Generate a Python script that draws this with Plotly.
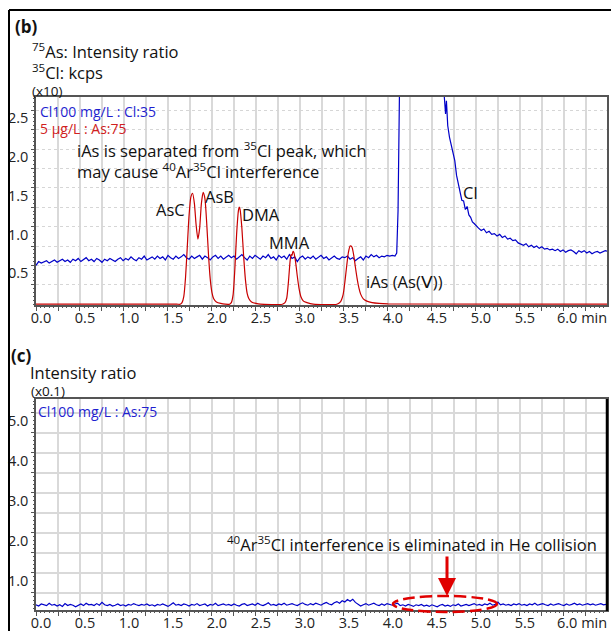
import numpy as np
import plotly.graph_objects as go

W, H = 611, 631

# ---------------- data ----------------
x_tick_labels = ["0.0", "0.5", "1.0", "1.5", "2.0", "2.5", "3.0",
                 "3.5", "4.0", "4.5", "5.0", "5.5", "6.0"]
x_unit = "min"
top_y_tick_labels = ["0.5", "1.0", "1.5", "2.0", "2.5"]
bottom_y_tick_labels = ["1.0", "2.0", "3.0", "4.0", "5.0"]

# As:75 (red) chromatogram, top panel
as_time = [0.00, 1.60, 1.64, 1.66, 1.68, 1.70, 1.72, 1.74, 1.76, 1.78, 1.80, 1.82,
           1.84, 1.86, 1.88, 1.90, 1.92, 1.94, 1.96, 1.98, 2.00, 2.02, 2.05, 2.10,
           2.15, 2.20, 2.22, 2.24, 2.26, 2.28, 2.30, 2.31, 2.32, 2.34, 2.36, 2.38,
           2.40, 2.42, 2.45, 2.50, 2.55, 2.80, 2.83, 2.85, 2.87, 2.89, 2.90, 2.91,
           2.92, 2.93, 2.95, 2.97, 2.99, 3.01, 3.04, 3.08, 3.15, 3.42, 3.46, 3.49,
           3.51, 3.53, 3.55, 3.57, 3.59, 3.61, 3.63, 3.65, 3.67, 3.69, 3.72, 3.76,
           3.82, 3.90, 4.00, 6.49]
as_value = [0.0, 0.0, 0.0, 0.02, 0.10, 0.35, 0.75, 1.15, 1.38, 1.43, 1.30, 1.02,
            0.84, 0.98, 1.30, 1.44, 1.36, 1.05, 0.65, 0.33, 0.15, 0.07, 0.03, 0.01,
            0.0, 0.0, 0.02, 0.12, 0.45, 0.90, 1.20, 1.25, 1.22, 0.98, 0.62, 0.32,
            0.14, 0.07, 0.03, 0.01, 0.0, 0.0, 0.02, 0.08, 0.30, 0.58, 0.64, 0.63,
            0.68, 0.67, 0.55, 0.36, 0.20, 0.10, 0.04, 0.02, 0.0, 0.0, 0.03, 0.12,
            0.28, 0.48, 0.66, 0.75, 0.74, 0.64, 0.48, 0.33, 0.21, 0.13, 0.07, 0.04,
            0.02, 0.01, 0.005, 0.0]

# Cl:35 (blue) chromatogram, top panel: baseline sampled every 0.03 min from 0.00
cl_base_start, cl_step = 0.0, 0.03
cl_base_values = [
    0.50, 0.55, 0.53, 0.54, 0.56, 0.53, 0.55, 0.57, 0.54, 0.56, 0.58, 0.55, 0.57, 0.54, 0.58,
    0.56, 0.59, 0.55, 0.57, 0.60, 0.56, 0.58, 0.55, 0.59, 0.57, 0.54, 0.58, 0.56, 0.59, 0.57,
    0.55, 0.58, 0.60, 0.56, 0.59, 0.57, 0.61, 0.58, 0.56, 0.60, 0.58, 0.62, 0.57, 0.59, 0.61,
    0.58, 0.62, 0.59, 0.61, 0.57, 0.63, 0.60, 0.58, 0.62, 0.59, 0.61, 0.64, 0.60, 0.58, 0.62,
    0.59, 0.61, 0.63, 0.58, 0.62, 0.60, 0.57, 0.61, 0.63, 0.59, 0.62, 0.58, 0.60, 0.63, 0.60,
    0.62, 0.58, 0.61, 0.64, 0.60, 0.57, 0.62, 0.59, 0.63, 0.61, 0.58, 0.62, 0.60, 0.64, 0.59,
    0.61, 0.57, 0.63, 0.60, 0.62, 0.58, 0.64, 0.59, 0.61, 0.55, 0.60, 0.62, 0.58, 0.61, 0.59,
    0.62, 0.58, 0.60, 0.63, 0.59, 0.61, 0.57, 0.60, 0.62, 0.59, 0.58, 0.61, 0.60, 0.62, 0.58,
    0.60, 0.56, 0.59, 0.61, 0.57, 0.62, 0.60, 0.64, 0.61, 0.63, 0.60, 0.62, 0.61, 0.63, 0.62,
    0.63, 0.62]
cl_peak_time = [4.10, 4.115, 4.13, 4.15, 4.20, 4.30, 4.40, 4.50, 4.58, 4.62, 4.645,
                4.655, 4.665, 4.68, 4.70, 4.72, 4.74, 4.76, 4.78, 4.80, 4.82, 4.84,
                4.86, 4.88, 4.90, 4.92, 4.94, 4.96, 4.98, 5.00]
cl_peak_value = [0.66, 1.2, 2.6, 4.5, 8.0, 9.5, 8.0, 5.5, 3.6, 3.0, 2.58,
                 2.45, 2.62, 2.30, 2.15, 2.05, 1.92, 1.85, 1.66, 1.55, 1.42, 1.34,
                 1.33, 1.22, 1.26, 1.15, 1.12, 1.06, 1.04, 1.01]
cl_tail_start = 5.03
cl_tail_values = [
    0.98, 0.95, 0.97, 0.92, 0.94, 0.90, 0.91, 0.88, 0.90, 0.86, 0.88, 0.84, 0.85, 0.82, 0.83,
    0.79, 0.78, 0.76, 0.78, 0.74, 0.76, 0.73, 0.75, 0.72, 0.74, 0.71, 0.72, 0.70, 0.71, 0.69,
    0.71, 0.68, 0.70, 0.67, 0.69, 0.70, 0.68, 0.65, 0.69, 0.67, 0.69, 0.66, 0.68, 0.65, 0.67,
    0.68, 0.66, 0.67, 0.69, 0.68]

# As:75 in He mode (blue) chromatogram, bottom panel, every 0.03 min from 0.00
he_start = 0.0
he_values = [
    0.20, 0.17, 0.22, 0.19, 0.18, 0.24, 0.19, 0.21, 0.17, 0.20, 0.16, 0.23, 0.18, 0.21, 0.19,
    0.15, 0.19, 0.22, 0.18, 0.24, 0.20, 0.21, 0.18, 0.23, 0.19, 0.26, 0.20, 0.18, 0.21, 0.17,
    0.19, 0.22, 0.18, 0.20, 0.17, 0.21, 0.19, 0.23, 0.20, 0.18, 0.21, 0.19, 0.22, 0.18, 0.20,
    0.17, 0.21, 0.19, 0.22, 0.18, 0.16, 0.20, 0.25, 0.19, 0.21, 0.18, 0.22, 0.20, 0.17, 0.21,
    0.19, 0.23, 0.18, 0.20, 0.22, 0.17, 0.21, 0.19, 0.24, 0.18, 0.20, 0.22, 0.19, 0.21, 0.18,
    0.22, 0.19, 0.17, 0.21, 0.23, 0.18, 0.20, 0.22, 0.19, 0.24, 0.20, 0.18, 0.21, 0.25, 0.19,
    0.21, 0.18, 0.22, 0.20, 0.24, 0.19, 0.21, 0.23, 0.20, 0.18, 0.22, 0.25, 0.21, 0.19, 0.23,
    0.20, 0.24, 0.21, 0.19, 0.23, 0.26, 0.22, 0.20, 0.25, 0.28, 0.24, 0.30, 0.27, 0.33, 0.29,
    0.34, 0.26, 0.22, 0.17, 0.20, 0.23, 0.19, 0.21, 0.24, 0.20, 0.18, 0.22, 0.19, 0.23, 0.21,
    0.19, 0.22, 0.24, 0.18, 0.20, 0.17, 0.21, 0.19, 0.16, 0.20, 0.18, 0.21, 0.17, 0.19, 0.16,
    0.20, 0.18, 0.15, 0.19, 0.21, 0.17, 0.19, 0.16, 0.20, 0.18, 0.22, 0.17, 0.19, 0.21, 0.18,
    0.20, 0.23, 0.19, 0.21, 0.18, 0.22, 0.20, 0.24, 0.19, 0.21, 0.27, 0.20, 0.22, 0.19, 0.21,
    0.18, 0.22, 0.20, 0.23, 0.19, 0.21, 0.18, 0.22, 0.20, 0.24, 0.19, 0.21, 0.23, 0.20, 0.18,
    0.22, 0.19, 0.21, 0.23, 0.20, 0.18, 0.22, 0.19, 0.21, 0.24, 0.20, 0.22, 0.19, 0.21, 0.23,
    0.20, 0.22, 0.19, 0.21, 0.23, 0.20, 0.21]

# ---------------- assemble series ----------------
cl_base_time = np.round(cl_base_start + cl_step * np.arange(len(cl_base_values)), 3)
cl_tail_time = np.round(cl_tail_start + cl_step * np.arange(len(cl_tail_values)), 3)
cl_time = list(cl_base_time) + cl_peak_time + list(cl_tail_time)
cl_value = cl_base_values + cl_peak_value + cl_tail_values
he_time = np.round(he_start + cl_step * np.arange(len(he_values)), 3)

x_tick_vals = [float(s) for s in x_tick_labels]
# last label carries the unit; leading no-break spaces keep "6.0" over its tick
x_tick_text = x_tick_labels[:-1] + ["\u00a0" * 7 + x_tick_labels[-1] + " " + x_unit]
top_y_tick_vals = [float(s) for s in top_y_tick_labels]
bottom_y_tick_vals = [float(s) for s in bottom_y_tick_labels]

BLUE = "#0000c8"
RED = "#c80000"
FONT = "Open Sans"
AX = "#555"

def px(x):
    return x / W

def py(y):
    return 1 - y / H

fig = go.Figure()
fig.add_trace(go.Scatter(x=cl_time, y=cl_value, mode="lines",
                         line=dict(color=BLUE, width=1.2), xaxis="x", yaxis="y"))
fig.add_trace(go.Scatter(x=as_time, y=as_value, mode="lines",
                         line=dict(color=RED, width=1.2, shape="spline", smoothing=0.6),
                         xaxis="x", yaxis="y"))
fig.add_trace(go.Scatter(x=he_time, y=he_values, mode="lines",
                         line=dict(color=BLUE, width=1.2), xaxis="x2", yaxis="y2"))
# empty traces that carry the fine tick-mark overlay axes
fig.add_trace(go.Scatter(x=[], y=[], xaxis="x3", yaxis="y3", hoverinfo="skip"))
fig.add_trace(go.Scatter(x=[], y=[], xaxis="x4", yaxis="y4", hoverinfo="skip"))

XRANGE = [0, 6.49]
TY_RANGE = [-0.01, 2.67]
BY_RANGE = [0.07, 5.35]
xdom = [px(36), px(607)]
tick_font = dict(family=FONT, size=14.5, color="#222")

def main_x(anchor):
    return dict(domain=xdom, anchor=anchor, range=XRANGE, automargin=False,
                tickmode="array", tickvals=x_tick_vals, ticktext=x_tick_text,
                tickangle=0,
                ticks="outside", ticklen=4, tickcolor=AX, tickwidth=1,
                showgrid=True, gridcolor="#d9d9d9", gridwidth=1.5,
                showline=True, linecolor=AX, linewidth=1.5, mirror=True,
                zeroline=False, tickfont=tick_font, ticklabelshift=5,
                ticklabelstandoff=-5,
                minor=dict(tickmode="linear", tick0=0.25, dtick=0.5, ticks="outside",
                           ticklen=4, tickcolor=AX, showgrid=True,
                           gridcolor="#d9d9d9", gridwidth=1.5))

def fine_x(overlay, anchor):
    return dict(overlaying=overlay, anchor=anchor, range=XRANGE, automargin=False,
                tickmode="linear", tick0=0, dtick=0.05, ticks="outside", ticklen=2,
                tickcolor=AX, showticklabels=False, showgrid=False,
                showline=False, zeroline=False)

def fine_y(overlay, anchor, rng, dt):
    return dict(overlaying=overlay, anchor=anchor, range=rng, side="left",
                automargin=False,
                tickmode="linear", tick0=0, dtick=dt, ticks="outside", ticklen=2,
                tickcolor=AX, showticklabels=False, showgrid=False,
                showline=False, zeroline=False)

fig.update_layout(
    width=W, height=H, margin=dict(l=0, r=0, t=0, b=0),
    paper_bgcolor="white", plot_bgcolor="white", showlegend=False,
    font=dict(family=FONT, color="#111"),
    xaxis=main_x("y"),
    yaxis=dict(domain=[py(305), py(97)], anchor="x", range=TY_RANGE, automargin=False,
               tickmode="array", tickvals=top_y_tick_vals, ticktext=top_y_tick_labels,
               ticks="outside", ticklen=3, tickcolor=AX,
               showgrid=True, gridcolor="#d6d6d6", gridwidth=1, griddash="dot",
               showline=True, linecolor=AX, linewidth=1.5, mirror=True,
               zeroline=False, tickfont=tick_font, ticklabelshift=8,
               ticklabelstandoff=0,
               minor=dict(tickmode="linear", tick0=0.25, dtick=0.5, ticks="outside",
                          ticklen=3, tickcolor=AX, showgrid=True,
                          gridcolor="#d6d6d6", gridwidth=1, griddash="dot")),
    xaxis2=main_x("y2"),
    yaxis2=dict(domain=[py(610), py(399)], anchor="x2", range=BY_RANGE, automargin=False,
                tickmode="array", tickvals=bottom_y_tick_vals, ticktext=bottom_y_tick_labels,
                ticks="outside", ticklen=3, tickcolor=AX,
                showgrid=True, gridcolor="#d9d9d9", gridwidth=1.5,
                showline=True, linecolor=AX, linewidth=1.5, mirror=True,
                zeroline=False, tickfont=tick_font, ticklabelshift=8,
                ticklabelstandoff=0,
                minor=dict(tickmode="linear", tick0=0.5, dtick=1.0, ticks="outside",
                           ticklen=3, tickcolor=AX, showgrid=True,
                           gridcolor="#d9d9d9", gridwidth=1.5)),
    xaxis3=fine_x("x", "y"),
    yaxis3=fine_y("y", "x", TY_RANGE, 0.05),
    xaxis4=fine_x("x2", "y2"),
    yaxis4=fine_y("y2", "x2", BY_RANGE, 0.1),
)

# frame and borders
shapes = [
    dict(type="line", xref="paper", yref="paper", x0=px(9), x1=px(9), y0=py(10), y1=py(631),
         line=dict(color="black", width=2)),
    dict(type="line", xref="paper", yref="paper", x0=px(9), x1=px(611), y0=py(10), y1=py(10),
         line=dict(color="black", width=2)),
    dict(type="line", xref="paper", yref="paper", x0=px(607), x1=px(607), y0=py(399), y1=py(611),
         line=dict(color="black", width=2.5)),
    dict(type="circle", xref="paper", yref="paper", x0=px(393), x1=px(497), y0=py(612), y1=py(596),
         line=dict(color="#e00000", width=2.5, dash="12px,5px")),
]
fig.update_layout(shapes=shapes)

def txt(s, x, y, size=16.5, color="#111", anchor="left", yanchor="middle"):
    return dict(text=s, x=px(x), y=py(y), xref="paper", yref="paper",
                xanchor=anchor, yanchor=yanchor, showarrow=False, align="left",
                font=dict(family=FONT, size=size, color=color))

LBLUE = "#1f1fd0"
LRED = "#d02020"
ann = [
    txt("<b>(b)</b>", 13, 26, 17),
    txt("<sup>75</sup>As: Intensity ratio<br><sup>35</sup>Cl: kcps", 30, 61),
    txt("(x10)", 30, 91, 13.5),
    txt("Cl100 mg/L : Cl:35", 38, 111, 14, LBLUE),
    txt("5 μg/L : As:75", 38, 128, 14, LRED),
    txt("iAs is separated from <sup>35</sup>Cl peak, which<br>"
        "may cause <sup>40</sup>Ar<sup>35</sup>Cl interference", 75, 160),
    txt("AsC", 154, 209),
    txt("AsB", 203, 196),
    txt("DMA", 240, 214),
    txt("MMA", 267, 243),
    txt("iAs (As(Ⅴ))", 364, 281),
    txt("Cl", 461, 193),
    txt("<b>(c)</b>", 9, 355, 17),
    txt("Intensity ratio", 28, 372),
    txt("(x0.1)", 29, 391, 13.5),
    txt("Cl100 mg/L : As:75", 36, 411, 14, LBLUE),
    txt("<sup>40</sup>Ar<sup>35</sup>Cl interference is eliminated in He collision", 225, 544),
    dict(text="", x=px(447), y=py(596), xref="paper", yref="paper",
         showarrow=True, ax=0, ay=-41, axref="pixel", ayref="pixel",
         arrowcolor="#e00000", arrowwidth=3, arrowhead=2, arrowsize=1.2, standoff=0),
]
fig.update_layout(annotations=ann)

fig.write_html("out.html", config={"displayModeBar": False},
               post_script="document.body.style.margin='0';document.body.style.overflow='hidden';")
